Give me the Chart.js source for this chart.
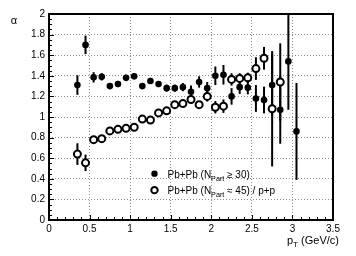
<!DOCTYPE html>
<html>
<head>
<meta charset="utf-8">
<script src="https://cdn.jsdelivr.net/npm/chart.js@4/dist/chart.umd.min.js"></script>
<style>
  html, body { margin: 0; padding: 0; background: #fff; }
  #wrap { width: 356px; height: 256px; }
</style>
</head>
<body>
<div id="wrap"><canvas id="alphaChart" width="356" height="256"></canvas></div>
<script>
// Pb+Pb (N_Part >= 30), filled circles
const ptFilled = [0.35, 0.45, 0.55, 0.65, 0.75, 0.85, 0.95, 1.05, 1.15, 1.25, 1.35, 1.45, 1.55, 1.65,
    1.75, 1.85, 1.95, 2.05, 2.15, 2.25, 2.35, 2.45, 2.55, 2.65, 2.75, 2.85, 2.95, 3.05];
const alphaFilled = [1.31, 1.70, 1.385, 1.39, 1.30, 1.32, 1.38, 1.395, 1.30, 1.35, 1.32, 1.28, 1.28, 1.29,
    1.245, 1.34, 1.28, 1.40, 1.41, 1.20, 1.29, 1.285, 1.18, 1.165, 1.31, 1.07, 1.54, 0.86];
const errFilled = [0.095, 0.09, 0.05, 0.035, 0.03, 0.03, 0.03, 0.03, 0.03, 0.03, 0.03, 0.035, 0.035, 0.04,
    0.06, 0.055, 0.06, 0.09, 0.095, 0.08, 0.065, 0.065, 0.13, 0.13, 0.3, 0.33, 0.47, 0.47];

// Pb+Pb (N_Part ~ 45) / p+p, open circles
const ptOpen = [0.35, 0.45, 0.55, 0.65, 0.75, 0.85, 0.95, 1.05, 1.15, 1.25, 1.35, 1.45, 1.55, 1.65,
    1.75, 1.85, 1.95, 2.05, 2.15, 2.25, 2.35, 2.45, 2.55, 2.65, 2.75, 2.85];
const alphaOpen = [0.64, 0.555, 0.78, 0.79, 0.865, 0.88, 0.89, 0.90, 0.98, 0.97, 1.04, 1.06, 1.12, 1.13,
    1.17, 1.12, 1.20, 1.095, 1.105, 1.365, 1.375, 1.38, 1.47, 1.57, 1.08, 1.34];
const errOpen = [0.105, 0.08, 0.02, 0.02, 0.02, 0.02, 0.02, 0.02, 0.02, 0.02, 0.02, 0.02, 0.02, 0.025,
    0.03, 0.035, 0.05, 0.06, 0.065, 0.06, 0.05, 0.05, 0.11, 0.11, 0.56, 0.375];

const xTicks = [0, 0.5, 1, 1.5, 2, 2.5, 3, 3.5];
const yTicks = [0, 0.2, 0.4, 0.6, 0.8, 1, 1.2, 1.4, 1.6, 1.8, 2];

const FONT = "Liberation Sans, Arial, Helvetica, sans-serif";

const toPoints = (xs, ys, es) => xs.map((x, i) => ({ x, y: ys[i], err: es[i] }));

// text with one subscript piece: [before, sub, after]
function subText(ctx, parts, x, y, size, align) {
    const [a, s, b] = parts;
    ctx.font = `${size}px ${FONT}`;
    const wa = ctx.measureText(a).width;
    const wb = ctx.measureText(b).width;
    ctx.font = `${size * 0.72}px ${FONT}`;
    const ws = ctx.measureText(s).width;
    let x0 = align === "right" ? x - (wa + ws + wb) : x;
    ctx.textAlign = "left";
    ctx.textBaseline = "alphabetic";
    ctx.font = `${size}px ${FONT}`;
    ctx.fillText(a, x0, y);
    ctx.font = `${size * 0.72}px ${FONT}`;
    ctx.fillText(s, x0 + wa, y + 3);
    ctx.font = `${size}px ${FONT}`;
    ctx.fillText(b, x0 + wa + ws, y);
}

const errorBars = {
    id: "errorBars",
    beforeDatasetsDraw(chart) {
        const { ctx, chartArea: area, scales: { x, y } } = chart;
        ctx.save();
        ctx.beginPath();
        ctx.rect(area.left, area.top, area.right - area.left, area.bottom - area.top);
        ctx.clip();
        ctx.strokeStyle = "#000";
        ctx.lineWidth = 2;
        chart.data.datasets.forEach((ds) => {
            ds.data.forEach((p) => {
                const px = x.getPixelForValue(p.x);
                ctx.beginPath();
                ctx.moveTo(px, y.getPixelForValue(p.y - p.err));
                ctx.lineTo(px, y.getPixelForValue(p.y + p.err));
                ctx.stroke();
            });
        });
        ctx.restore();
    }
};

const decorations = {
    id: "decorations",
    afterDraw(chart) {
        const { ctx, chartArea: area, scales: { x, y } } = chart;
        ctx.save();
        ctx.strokeStyle = "#000";

        // minor / major ticks, inside, left and bottom only
        ctx.lineWidth = 1;
        for (let i = 0; i <= 40; i++) {
            const py = Math.round(y.getPixelForValue(i * 0.05)) + 0.5;
            const len = i % 4 === 0 ? 5 : 3;
            ctx.beginPath();
            ctx.moveTo(area.left, py);
            ctx.lineTo(area.left + len, py);
            ctx.stroke();
        }
        for (let i = 0; i <= 35; i++) {
            const px = Math.round(x.getPixelForValue(i * 0.1)) + 0.5;
            const len = i % 5 === 0 ? 5 : 3;
            ctx.beginPath();
            ctx.moveTo(px, area.bottom);
            ctx.lineTo(px, area.bottom - len);
            ctx.stroke();
        }

        // frame
        ctx.lineWidth = 2;
        ctx.strokeRect(area.left, area.top, area.right - area.left, area.bottom - area.top);

        // axis titles
        ctx.fillStyle = "#000";
        ctx.font = `11px ${FONT}`;
        ctx.textAlign = "center";
        ctx.textBaseline = "middle";
        ctx.fillText("α", 14, 21);
        subText(ctx, ["p", "T", " (GeV/c)"], 339, 244, 11, "right");

        // legend
        const lx = x.getPixelForValue(1.3);
        const ly1 = y.getPixelForValue(0.45);
        const ly2 = y.getPixelForValue(0.29);
        ctx.beginPath();
        ctx.arc(lx, ly1, 3.2, 0, Math.PI * 2);
        ctx.fill();
        ctx.beginPath();
        ctx.arc(lx, ly2, 3.2, 0, Math.PI * 2);
        ctx.fillStyle = "#fff";
        ctx.fill();
        ctx.lineWidth = 2;
        ctx.stroke();
        ctx.fillStyle = "#000";
        subText(ctx, ["Pb+Pb (N", "Part", " ≥ 30)"], lx + 13, ly1 + 4, 10, "left");
        subText(ctx, ["Pb+Pb (N", "Part", " ≈ 45) / p+p"], lx + 13, ly2 + 4, 10, "left");
        ctx.restore();
    }
};

const chart = new Chart(document.getElementById("alphaChart").getContext("2d"), {
    type: "scatter",
    data: {
        datasets: [
            {
                label: "Pb+Pb (NPart ≥ 30)",
                data: toPoints(ptFilled, alphaFilled, errFilled),
                pointStyle: "circle",
                pointRadius: 3.3,
                pointBackgroundColor: "#000",
                pointBorderColor: "#000",
                pointBorderWidth: 0
            },
            {
                label: "Pb+Pb (NPart ≈ 45) / p+p",
                data: toPoints(ptOpen, alphaOpen, errOpen),
                pointStyle: "circle",
                pointRadius: 3.5,
                pointBackgroundColor: "#fff",
                pointBorderColor: "#000",
                pointBorderWidth: 2
            }
        ]
    },
    options: {
        responsive: false,
        animation: false,
        events: [],
        layout: { padding: { top: 14, right: 23, left: 0, bottom: 0 } },
        plugins: { legend: { display: false }, tooltip: { enabled: false } },
        scales: {
            x: {
                type: "linear",
                min: 0,
                max: 3.5,
                afterFit: (s) => { s.height = 36; },
                afterBuildTicks: (s) => { s.ticks = xTicks.map((v) => ({ value: v })); },
                ticks: {
                    color: "#000",
                    padding: 3,
                    maxRotation: 0,
                    autoSkip: false,
                    font: { family: FONT, size: 10 },
                    callback: (v) => String(v)
                },
                grid: { color: "#8c8c8c", lineWidth: 1, drawTicks: false },
                border: { display: false, dash: [1, 2] }
            },
            y: {
                type: "linear",
                min: 0,
                max: 2,
                afterFit: (s) => { s.width = 49; },
                afterBuildTicks: (s) => { s.ticks = yTicks.map((v) => ({ value: v })); },
                ticks: {
                    color: "#000",
                    padding: 4,
                    autoSkip: false,
                    font: { family: FONT, size: 10 },
                    callback: (v) => String(Math.round(v * 10) / 10)
                },
                grid: { color: "#8c8c8c", lineWidth: 1, drawTicks: false },
                border: { display: false, dash: [1, 2] }
            }
        }
    },
    plugins: [errorBars, decorations]
});
</script>
</body>
</html>
